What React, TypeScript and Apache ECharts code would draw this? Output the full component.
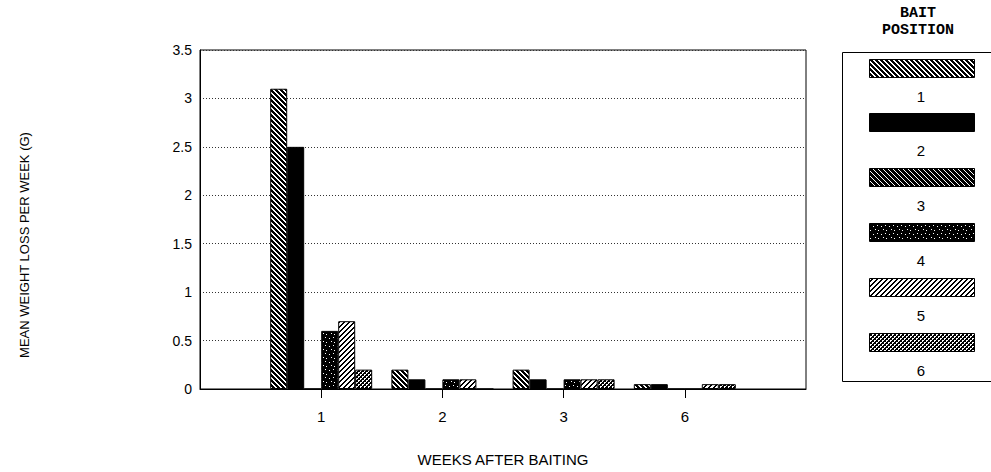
import React, { useEffect, useRef } from 'react';
import * as echarts from 'echarts';

// Data
const weeks = ['1', '2', '3', '6'];
const baitPositions = ['1', '2', '3', '4', '5', '6'];
const bait1 = [3.1, 0.2, 0.2, 0.05];
const bait2 = [2.5, 0.1, 0.1, 0.05];
const bait3 = [0, 0, 0, 0];
const bait4 = [0.6, 0.1, 0.1, 0];
const bait5 = [0.7, 0.1, 0.1, 0.05];
const bait6 = [0.2, 0, 0.1, 0.05];
const seriesValues = [bait1, bait2, bait3, bait4, bait5, bait6];

const FONT = '"Liberation Sans", Arial, sans-serif';

function makePattern(size: number, fn: (x: number, y: number) => boolean) {
  const c = document.createElement('canvas');
  c.width = size;
  c.height = size;
  const ctx = c.getContext('2d')!;
  const img = ctx.createImageData(size, size);
  for (let y = 0; y < size; y++) {
    for (let x = 0; x < size; x++) {
      const i = (y * size + x) * 4;
      const v = fn(x, y) ? 0 : 255;
      img.data[i] = v;
      img.data[i + 1] = v;
      img.data[i + 2] = v;
      img.data[i + 3] = 255;
    }
  }
  ctx.putImageData(img, 0, 0);
  return { image: c, repeat: 'repeat' } as any;
}

export default function App() {
  const ref = useRef<HTMLDivElement>(null);
  useEffect(() => {
    if (!ref.current) return;
    const chart = echarts.init(ref.current, undefined, { renderer: 'svg' });

    const specks: Record<string, boolean> = { '1,2': true, '5,1': true, '3,5': true, '6,6': true };
    const fills: any[] = [
      makePattern(5, (x, y) => ((x - y + 10) % 5) < 3),
      '#000',
      makePattern(5, (x, y) => ((x - y + 10) % 5) < 4),
      makePattern(8, (x, y) => !specks[x + ',' + y]),
      makePattern(5, (x, y) => ((x + y) % 5) < 2),
      makePattern(4, (x, y) => (x + y) % 4 === 0 || (x - y + 8) % 4 === 0 || (x + y) % 4 === 1),
    ];

    const catData = ['', ...weeks, ''];

    const series = seriesValues.map((vals, i) => ({
      name: baitPositions[i],
      type: 'bar',
      data: ['-', ...vals, '-'],
      barWidth: 17,
      barGap: '0%',
      itemStyle: { color: fills[i], borderColor: '#000', borderWidth: 1 },
      emphasis: { disabled: true },
    }));

    const titleFont = 'bold 15px "Liberation Mono", "DejaVu Sans Mono", monospace';
    const swatchTops = [59, 113, 168, 223, 278, 333];
    const legendGraphics: any[] = [
      {
        type: 'rect',
        shape: { x: 842.5, y: 52.5, width: 170, height: 329 },
        style: { fill: 'none', stroke: '#000', lineWidth: 1 },
      },
      {
        type: 'text',
        x: 918,
        y: 13,
        style: {
          text: 'BAIT',
          font: titleFont,
          fill: '#000',
          textAlign: 'center',
          textVerticalAlign: 'middle',
        },
      },
      {
        type: 'text',
        x: 918,
        y: 30,
        style: {
          text: 'POSITION',
          font: titleFont,
          fill: '#000',
          textAlign: 'center',
          textVerticalAlign: 'middle',
        },
      },
    ];
    swatchTops.forEach((t, i) => {
      legendGraphics.push({
        type: 'rect',
        shape: { x: 869.5, y: t + 0.5, width: 105, height: 18 },
        style: { fill: fills[i], stroke: '#000', lineWidth: 1 },
      });
      legendGraphics.push({
        type: 'text',
        x: 921,
        y: t + 37,
        style: {
          text: baitPositions[i],
          font: '15px ' + FONT,
          fill: '#000',
          textAlign: 'center',
          textVerticalAlign: 'middle',
        },
      });
    });
    legendGraphics.push({
      type: 'text',
      x: 24,
      y: 245,
      rotation: Math.PI / 2,
      style: {
        text: 'MEAN WEIGHT LOSS PER WEEK (G)',
        font: '13px ' + FONT,
        fill: '#000',
        textAlign: 'center',
        textVerticalAlign: 'middle',
      },
    });

    chart.setOption({
      animation: false,
      backgroundColor: '#fff',
      grid: {
        left: 200,
        top: 50,
        width: 606,
        height: 342,
        show: true,
        borderColor: '#000',
        borderWidth: 1,
        backgroundColor: 'transparent',
      },
      xAxis: {
        type: 'category',
        data: catData,
        boundaryGap: false,
        name: 'WEEKS AFTER BAITING',
        nameLocation: 'middle',
        nameGap: 63,
        nameTextStyle: { fontFamily: FONT, fontSize: 15, color: '#000' },
        axisLine: { show: true, lineStyle: { color: '#000', width: 1 } },
        axisTick: {
          show: true,
          length: 9,
          interval: (idx: number) => idx > 0 && idx < catData.length - 1,
          lineStyle: { color: '#000' },
        },
        axisLabel: { interval: 0, margin: 20, fontFamily: FONT, fontSize: 15, color: '#000' },
        splitLine: { show: false },
      },
      yAxis: {
        type: 'value',
        min: 0,
        max: 3.5,
        interval: 0.5,
        axisLine: { show: true, lineStyle: { color: '#000', width: 1 } },
        axisTick: { show: false },
        axisLabel: { margin: 8, fontFamily: FONT, fontSize: 14, color: '#000' },
        splitLine: { show: true, lineStyle: { color: '#333', width: 1, type: [1, 2] } },
      },
      series,
      graphic: legendGraphics,
    });

    return () => chart.dispose();
  }, []);

  return <div ref={ref} style={{ position: 'absolute', left: 0, top: 0, width: 991, height: 472 }} />;
}
